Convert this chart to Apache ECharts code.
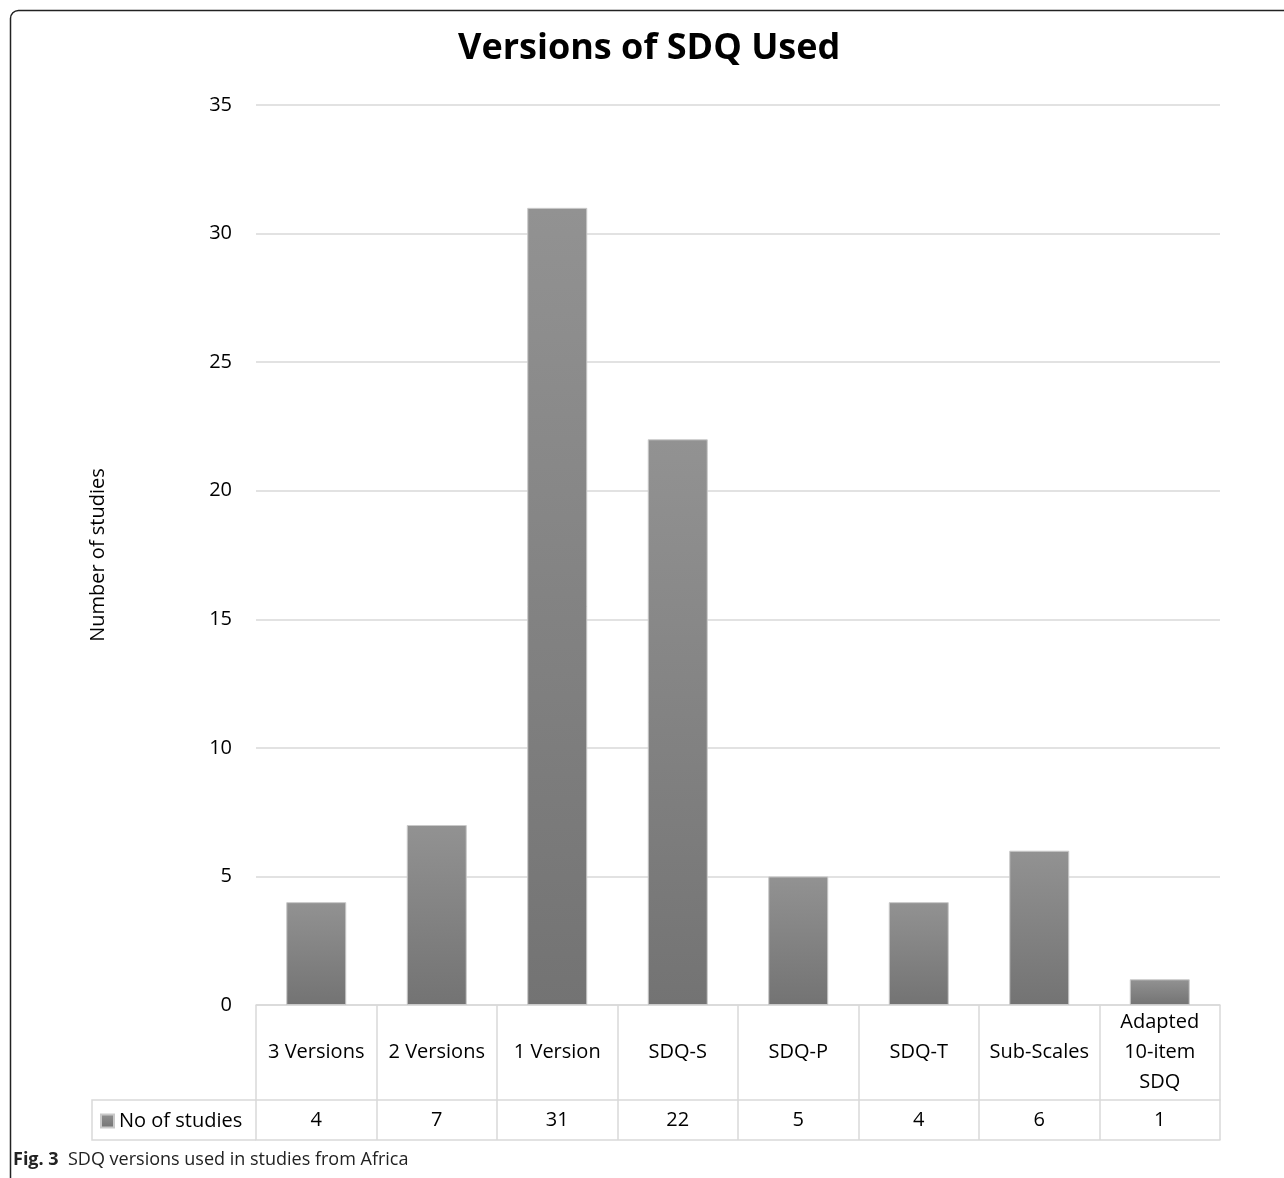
<!DOCTYPE html>
<html>
<head>
<meta charset="utf-8">
<title>Versions of SDQ Used</title>
<script src="https://cdn.jsdelivr.net/npm/echarts@6/dist/echarts.min.js"></script>
<style>
  html, body { margin: 0; padding: 0; background: #fff; }
  #chart { width: 1284px; height: 1178px; }
</style>
</head>
<body>
<div id="chart"></div>
<script>
// SDQ version categories and number of studies per version
const categories = ['3 Versions', '2 Versions', '1 Version', 'SDQ-S', 'SDQ-P', 'SDQ-T', 'Sub-Scales', 'Adapted\n10-item\nSDQ'];
const studyCounts = [4, 7, 31, 22, 5, 4, 6, 1];
const seriesName = 'No of studies';
const yTicks = { min: 0, max: 35, interval: 5 };

// Plot area and table geometry
const W = 1284, H = 1178;
const gridLeft = 256, gridRight = 64, gridTop = 105, gridBottom = 173;
const axisY = H - gridBottom;          // y of the zero line / table top
const rowLabelH = 95;                  // category row height
const rowValueH = 40;                  // value row height
const legendCellLeft = 92;
const tableColor = '#d9d9d9';
const font = '"Open Sans", "Noto Sans", sans-serif';
const fs = 20;

const chart = echarts.init(document.getElementById('chart'), null, { renderer: 'canvas' });

const barGradient = new echarts.graphic.LinearGradient(0, 0, 0, 1, [
  { offset: 0, color: '#929292' },
  { offset: 1, color: '#737373' }
]);

chart.setOption({
  backgroundColor: '#fff',
  animation: false,
  title: {
    text: 'Versions of SDQ Used',
    left: 453,
    top: 26,
    textStyle: { fontFamily: font, fontSize: 36, fontWeight: 'bold', color: '#000' }
  },
  legend: {
    data: [{ name: seriesName, icon: 'rect' }],
    left: 95,
    top: axisY + rowLabelH + 6,
    itemWidth: 13,
    itemHeight: 13,
    itemGap: 8,
    textStyle: { fontFamily: font, fontSize: fs, color: '#000', padding: [0, 0, 0, 0] }
  },
  grid: { left: gridLeft, right: gridRight, top: gridTop, bottom: gridBottom, containLabel: false },
  xAxis: [
    {
      type: 'category',
      data: categories,
      position: 'bottom',
      axisLine: { show: true, lineStyle: { color: tableColor, width: 1.5 } },
      axisTick: { show: true, length: rowLabelH + rowValueH, lineStyle: { color: tableColor, width: 1.5 } },
      axisLabel: {
        interval: 0,
        margin: rowLabelH / 2,
        verticalAlign: 'middle',
        align: 'center',
        lineHeight: 30,
        fontFamily: font,
        fontSize: fs,
        color: '#000'
      }
    },
    {
      type: 'category',
      data: studyCounts.map(String),
      position: 'bottom',
      offset: rowLabelH,
      axisLine: { show: true, lineStyle: { color: tableColor, width: 1.5 } },
      axisTick: { show: false },
      axisLabel: {
        interval: 0,
        margin: rowValueH / 2,
        verticalAlign: 'middle',
        fontFamily: font,
        fontSize: fs,
        color: '#000'
      }
    },
    {
      type: 'category',
      data: categories,
      position: 'bottom',
      offset: rowLabelH + rowValueH,
      axisLine: { show: true, lineStyle: { color: tableColor, width: 1.5 } },
      axisTick: { show: false },
      axisLabel: { show: false }
    }
  ],
  yAxis: {
    type: 'value',
    min: yTicks.min,
    max: yTicks.max,
    interval: yTicks.interval,
    name: 'Number of studies',
    nameLocation: 'middle',
    nameGap: 148,
    nameTextStyle: { fontFamily: font, fontSize: fs, color: '#000' },
    axisLine: { show: false },
    axisTick: { show: false },
    axisLabel: { margin: 24, fontFamily: font, fontSize: fs, color: '#000' },
    splitLine: { lineStyle: { color: tableColor, width: 1.5 } }
  },
  series: [{
    name: seriesName,
    type: 'bar',
    xAxisIndex: 0,
    data: studyCounts,
    barWidth: 60,
    itemStyle: { color: barGradient, borderColor: '#c9c9c9', borderWidth: 1 }
  }],
  graphic: [
    // outer frame with rounded top-left corner
    {
      type: 'rect',
      silent: true,
      shape: { x: 10.5, y: 10.5, width: W + 40, height: H + 40, r: 8 },
      style: { fill: null, stroke: '#222', lineWidth: 1.5 }
    },
    // legend cell of the data table
    {
      type: 'polyline',
      silent: true,
      shape: { points: [
        [gridLeft, axisY + rowLabelH],
        [legendCellLeft, axisY + rowLabelH],
        [legendCellLeft, axisY + rowLabelH + rowValueH],
        [gridLeft, axisY + rowLabelH + rowValueH]
      ] },
      style: { fill: null, stroke: tableColor, lineWidth: 1.5 }
    },
    // figure caption
    {
      type: 'text',
      left: 13,
      top: 1151,
      style: {
        text: '{b|Fig. 3}  SDQ versions used in studies from Africa',
        fontFamily: font,
        fontSize: 18,
        fill: '#222',
        rich: { b: { fontFamily: font, fontSize: 18, fontWeight: 'bold', fill: '#222' } }
      }
    }
  ]
});
</script>
</body>
</html>
